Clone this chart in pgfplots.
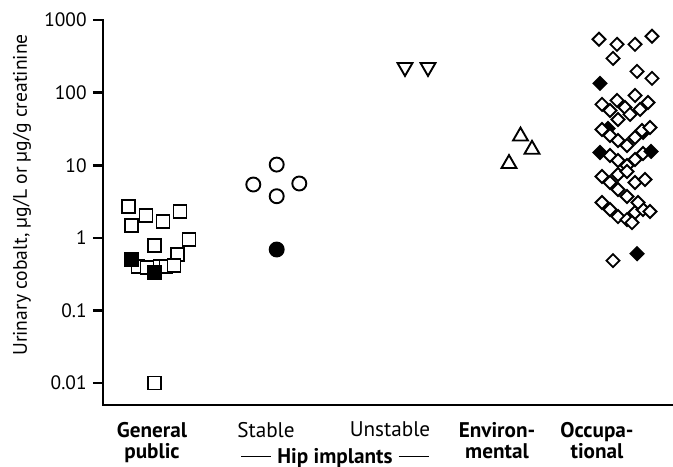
\documentclass[border=0pt]{standalone}
\usepackage{fontspec}
\setmainfont{PT Sans}
\usepackage{pgfplots}
\pgfplotsset{compat=1.18}
\begin{document}
\begin{tikzpicture}
\useasboundingbox (-51.5pt,-30.5pt) rectangle (285pt,202.5pt);
\begin{axis}[
  at={(0,0)}, anchor=south west,
  scale only axis, width=285pt, height=192.5pt,
  xmin=103, xmax=673,
  ymode=log, ymin=0.00498, ymax=1000,
  axis x line*=bottom, axis y line*=left,
  axis line style={line width=1.3pt, line cap=rect},
  ytick={0.01,0.1,1,10,100,1000},
  yticklabels={0.01,0.1,1,10,100,1000},
  yminorticks=false,
  tick align=outside,
  ytick style={line width=1.3pt, black},
  major tick length=5pt,
  xtick={152,266,390,497,597},
  xticklabels={{\textbf{General}\\\textbf{public}},Stable,Unstable,{\textbf{Environ-}\\\textbf{mental}},{\textbf{Occupa-}\\\textbf{tional}}},
  xtick style={draw=none},
  /pgf/number format/assume math mode=true,
  yticklabel style={font=\fontsize{9.7}{10}\selectfont, inner sep=0pt, xshift=-3pt},
  xticklabel style={font=\fontsize{10.6}{10.6}\selectfont, align=center, anchor=north, inner sep=0pt, yshift=-3.3pt},
  clip=false,
]
% General public
\addplot[only marks, mark=square*, mark size=3.25pt, mark options={line width=0.95pt, draw=black, fill=white}] coordinates {
(128.3,2.72) (146,2.02) (131.3,1.47) (163,1.69) (180,2.28) (154.3,0.79) (189,0.94) (177.3,0.59)
(138,0.40) (147,0.39) (160,0.40) (166,0.40) (174,0.41) (154.3,0.010)};
\addplot[only marks, mark=square*, mark size=3.25pt, mark options={line width=0.95pt, draw=black, fill=black}] coordinates {
(131.3,0.50) (154.3,0.33)};
% Stable
\addplot[only marks, mark=*, mark size=3.5pt, mark options={line width=0.95pt, draw=black, fill=white}] coordinates {
(276.7,10.2) (253.3,5.42) (299.3,5.6) (276.7,3.74)};
\addplot[only marks, mark=*, mark size=3.5pt, mark options={line width=0.95pt, draw=black, fill=black}] coordinates {
(276.7,0.69)};
% Unstable
\addplot[only marks, mark=triangle*, mark size=4.3pt, mark options={rotate=180, line width=0.95pt, draw=black, fill=white}] coordinates {
(405,223) (428,223)};
% Environmental
\addplot[only marks, mark=triangle*, mark size=4.3pt, mark options={line width=0.95pt, draw=black, fill=white}] coordinates {
(520.5,25.1) (532,16.5) (509,10.5)};
% Occupational (hidden filled)
\addplot[only marks, mark=square*, mark size=2.3pt, mark options={rotate=45, line width=0.95pt, draw=black, fill=black}] coordinates {
(608,32.1) (643,28.3)};
\addplot[only marks, mark=square*, mark size=2.3pt, mark options={rotate=45, line width=0.95pt, draw=black, fill=white}] coordinates {
(599,542) (617,462) (635,462) (652,596) (613,296) (637,196) (652,157)
(602,68.8) (617,78.1) (635,91.5) (648,73.2) (610,56.8) (625,62.5) (640,58.7) (618,42.7) (630,50.1)
(602,31.1) (610,25.7) (618,21.9) (627,18.7) (635,24.1) (642,30.1) (650,33.1)
(610,13.6) (618,11.6) (627,9.9) (635,12.0) (643,14.5)
(602,6.99) (610,5.77) (618,7.45) (627,8.19) (635,5.77) (645,6.35) (618,4.62) (627,3.70)
(602,3.06) (610,2.45) (618,1.96) (627,1.78) (635,2.23) (643,2.45) (650,2.30) (638,3.06) (632,1.62)
(613,0.485)};
\addplot[only marks, mark=square*, mark size=2.3pt, mark options={rotate=45, line width=0.95pt, draw=black, fill=black}] coordinates {
(600,134) (600,15.0) (651,15.5) (637,0.605)};
\end{axis}
\node[rotate=90, font=\fontsize{9.8}{10}\selectfont] at (-40.5pt,105pt) {Urinary cobalt, µg/L or µg/g creatinine};
\node[anchor=base, font=\fontsize{10.6}{10.6}\selectfont, inner sep=0pt] at (116pt,-29pt) {\rule[2.8pt]{15pt}{0.6pt}\hspace{3pt}\textbf{Hip implants}\hspace{3pt}\rule[2.8pt]{15pt}{0.6pt}};
\end{tikzpicture}
\end{document}
